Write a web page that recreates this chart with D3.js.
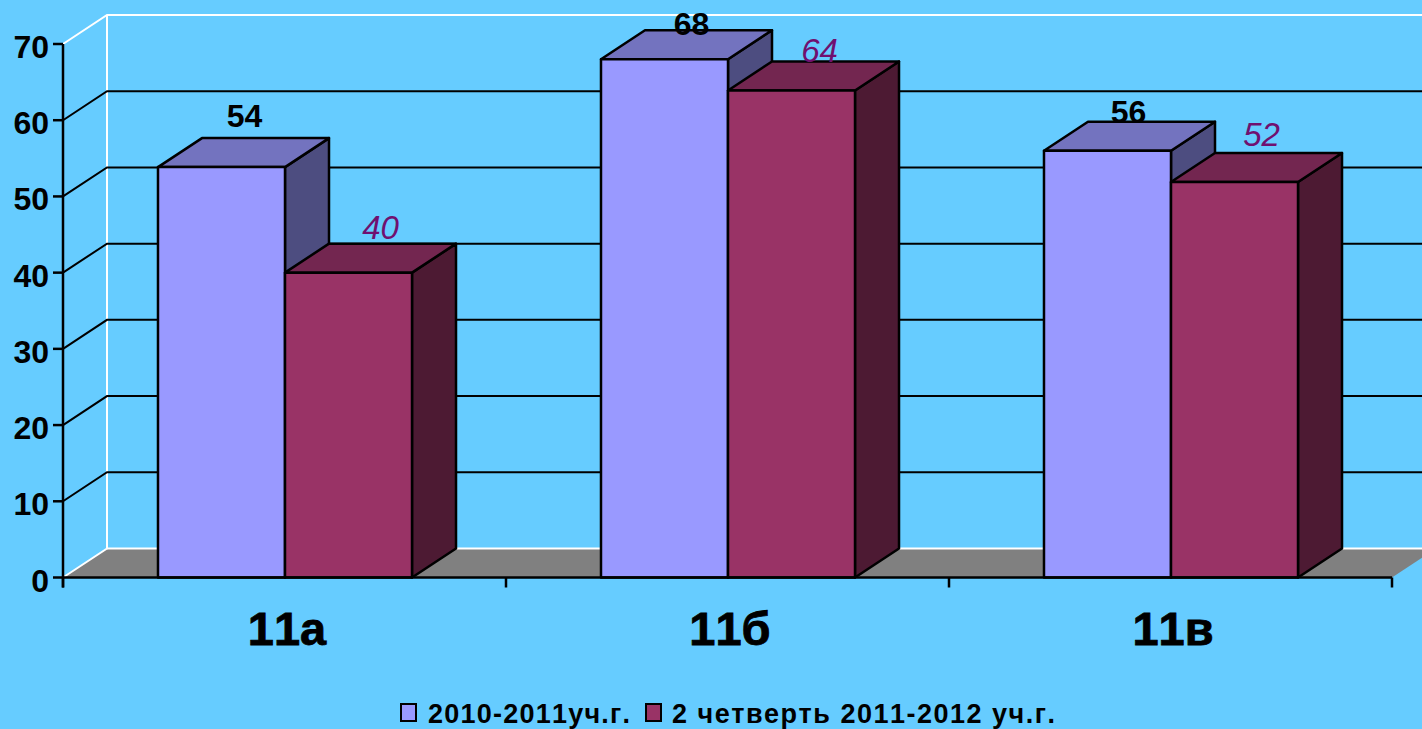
<!DOCTYPE html>
<html><head><meta charset="utf-8">
<script src="https://cdnjs.cloudflare.com/ajax/libs/d3/7.8.5/d3.min.js"></script>
<style>html,body{margin:0;padding:0;background:#66CCFF;overflow:hidden}svg{display:block}text{font-family:"Liberation Sans",Arial,sans-serif;font-kerning:none}</style>
</head><body><svg id="c" width="1422" height="729"></svg>
<script>
const categories = ["11а","11б","11в"];
const seriesNames = ["2010-2011уч.г.","2 четверть 2011-2012 уч.г."];
const series2010 = [53.85,68,56];
const series2011 = [40,63.9,51.9];
const yTicks = [0,10,20,30,40,50,60,70];

const W=1422,H=729, L=63,R=1392,T=44,B=577.5, DX=44,DY=29;
const face=["#9999FF","#993366"], top_=["#7373BF","#732650"], side=["#4D4D80","#4D1A33"];
// hand-placed label nudges of the original, [dx, baseline dy] relative to bar's back-top centre
const nudge=[[[1,-11],[10,-5]],[[5,5],[6,1]],[[-1,1],[5,-7]]];

const svg=d3.select("#c");
const y=d3.scaleLinear().domain([0,70]).range([B,T]);
const x0=d3.scaleBand().domain(categories).range([L+0.5,R+0.5]).paddingInner(0.4266).paddingOuter(0.2133);
const x1=d3.scaleBand().domain(d3.range(2)).range([0,x0.bandwidth()]);
const line=d3.line();

svg.append("rect").attr("width",W).attr("height",H).attr("fill","#66CCFF");
// floor
svg.append("path").attr("fill","#808080")
  .attr("d",line([[L,B],[L+DX,B-DY],[R+DX,B-DY],[R,B]])+"Z");
// walls (white)
const wl=svg.append("g").attr("fill","none").attr("stroke","#fff").attr("stroke-width",2);
wl.append("path").attr("d",line([[L,y(70)],[L+DX,y(70)-DY],[W+5,y(70)-DY]]));
wl.append("path").attr("d",line([[L,B],[L+DX,B-DY],[L+DX,y(70)-DY]]));
wl.append("path").attr("d",line([[L+DX,B-DY],[W+5,B-DY]]));
// grid
svg.append("g").selectAll("path").data(yTicks.filter(v=>v>0&&v<70)).join("path")
  .attr("fill","none").attr("stroke","#000").attr("stroke-width",2)
  .attr("d",v=>line([[L,y(v)],[L+DX,y(v)-DY],[W+5,y(v)-DY]]));
// bars
const rows=categories.map((c,i)=>[series2010[i],series2011[i]].map((v,s)=>({c,i,s,v})));
const g=svg.append("g").selectAll("g").data(rows.flat()).join("g")
  .attr("stroke","#000").attr("stroke-width",2.5).attr("stroke-linejoin","round");
const xa=d=>x0(d.c)+x1(d.s), xb=d=>xa(d)+x1.bandwidth();
g.append("path").attr("fill",d=>side[d.s])
  .attr("d",d=>line([[xb(d),B],[xb(d)+DX,B-DY],[xb(d)+DX,y(d.v)-DY],[xb(d),y(d.v)]])+"Z");
g.append("path").attr("fill",d=>top_[d.s])
  .attr("d",d=>line([[xa(d),y(d.v)],[xa(d)+DX,y(d.v)-DY],[xb(d)+DX,y(d.v)-DY],[xb(d),y(d.v)]])+"Z");
g.append("path").attr("fill",d=>face[d.s])
  .attr("d",d=>line([[xa(d),B],[xa(d),y(d.v)],[xb(d),y(d.v)],[xb(d),B]])+"Z");
// labels
svg.append("g").selectAll("text").data(rows.flat()).join("text")
  .attr("text-anchor","middle")
  .attr("x",d=>(xa(d)+xb(d))/2+DX/2+nudge[d.i][d.s][0])
  .attr("y",d=>y(d.v)-DY+nudge[d.i][d.s][1])
  .attr("font-size",d=>d.s?33:32)
  .attr("font-weight",d=>d.s?"normal":"bold")
  .attr("font-style",d=>d.s?"italic":"normal")
  .attr("fill",d=>d.s?"#701070":"#000")
  .text(d=>Math.round(d.v));
// y axis
const ya=svg.append("g").attr("stroke","#000").attr("stroke-width",2.5);
ya.append("path").attr("d",line([[L,T],[L,B+10]]));
ya.append("g").selectAll("path").data(yTicks).join("path").attr("d",v=>line([[L-10,y(v)],[L,y(v)]]));
svg.append("g").selectAll("text").data(yTicks).join("text")
  .attr("x",49).attr("y",v=>y(v)+14).attr("text-anchor","end")
  .attr("font-size",32).attr("font-weight","bold").attr("fill","#000").text(v=>v);
// x axis
const xTicks=[L,L+443,L+886,R];
ya.append("path").attr("d",line([[L,B],[R,B]]));
ya.append("g").selectAll("path").data(xTicks).join("path").attr("d",v=>line([[v,B],[v,B+10]]));
svg.append("g").selectAll("text").data(categories).join("text")
  .attr("x",c=>x0(c)+x0.bandwidth()/2+2).attr("y",645).attr("text-anchor","middle")
  .attr("font-size",47).attr("font-weight","bold").attr("fill","#000")
  .attr("stroke","#000").attr("stroke-width",0.8).text(c=>c);
// legend
const lx=[401,646], tx=[428,672], lw=[202,383];
const lg=svg.append("g").selectAll("g").data(seriesNames).join("g");
lg.append("rect").attr("x",(d,i)=>lx[i]).attr("y",704).attr("width",15).attr("height",17)
  .attr("fill",(d,i)=>face[i]).attr("stroke","#000").attr("stroke-width",2);
lg.append("text").attr("x",(d,i)=>tx[i]).attr("y",723).attr("font-size",27).attr("font-weight","bold")
  .attr("fill","#000").attr("textLength",(d,i)=>lw[i]).attr("lengthAdjust","spacing").text(d=>d);
</script></body></html>
